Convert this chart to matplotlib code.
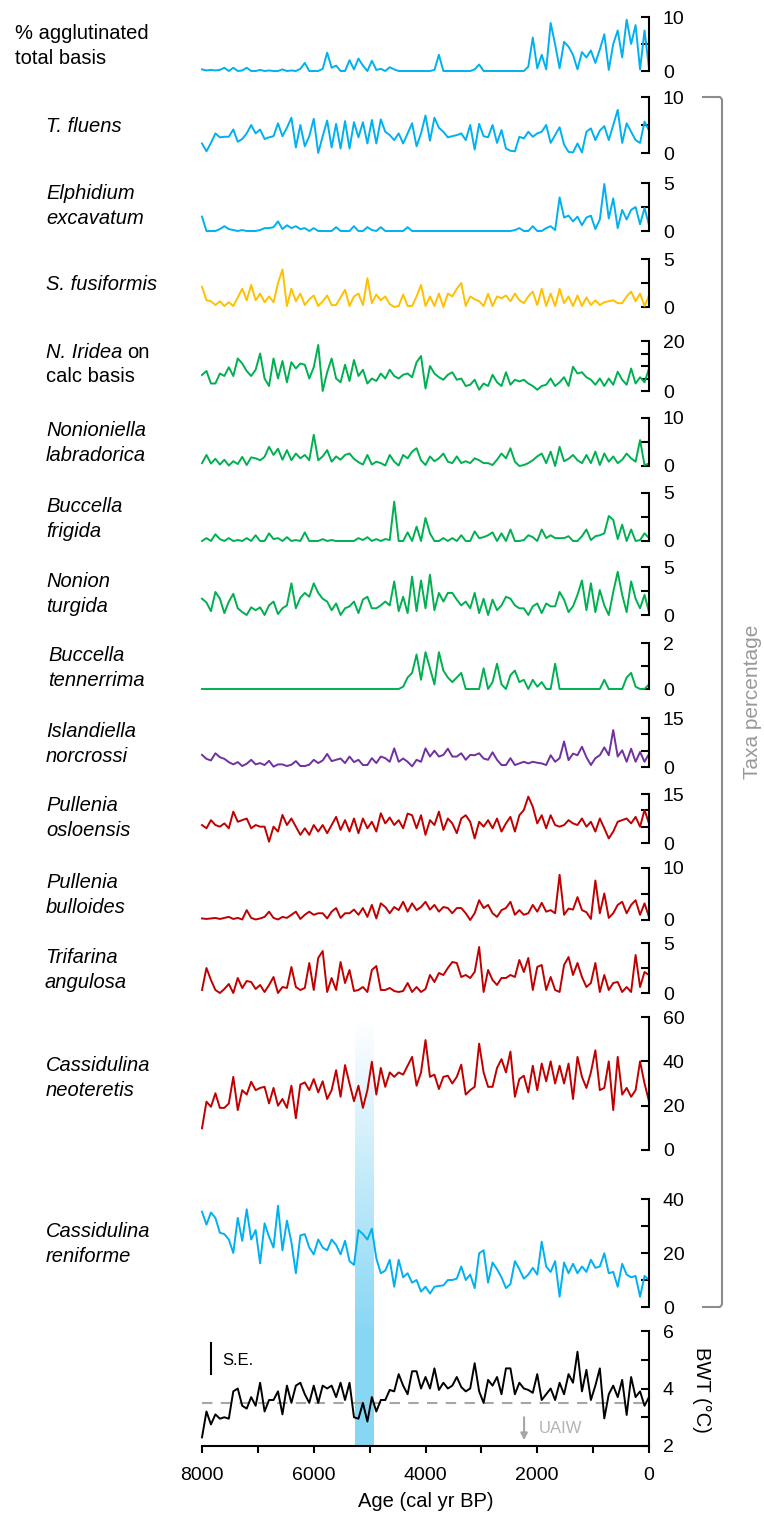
import numpy as np
import matplotlib
matplotlib.use("Agg")
import matplotlib.pyplot as plt
from matplotlib.lines import Line2D

plt.rcParams['font.family'] = ['Liberation Sans', 'DejaVu Sans']

# ---------------- data ----------------
age = [8000, 7920, 7840, 7760, 7680, 7600, 7520, 7440, 7360, 7280,
       7200, 7120, 7040, 6960, 6880, 6800, 6720, 6640, 6560, 6480,
       6400, 6320, 6240, 6160, 6080, 6000, 5920, 5840, 5760, 5680,
       5600, 5520, 5440, 5360, 5280, 5200, 5120, 5040, 4960, 4880,
       4800, 4720, 4640, 4560, 4480, 4400, 4320, 4240, 4160, 4080,
       4000, 3920, 3840, 3760, 3680, 3600, 3520, 3440, 3360, 3280,
       3200, 3120, 3040, 2960, 2880, 2800, 2720, 2640, 2560, 2480,
       2400, 2320, 2240, 2160, 2080, 2000, 1920, 1840, 1760, 1680,
       1600, 1520, 1440, 1360, 1280, 1200, 1120, 1040, 960, 880,
       800, 720, 640, 560, 480, 400, 320, 240, 160, 80, 0]

agglutinated = [0.3, 0.1, 0.2, 0.1, 0.2, 0.6, 0, 0.6, 0, 0.1,
                0.6, 0, 0, 0.2, 0, 0.1, 0, 0, 0.3, 0,
                0.1, 0, 0.4, 1.5, 0, 0, 0, 0.4, 3.4, 0.6,
                1.0, 0, 0, 2.0, 0.3, 2.3, 1.0, 0, 1.9, 0.2,
                0.4, 0, 0.7, 0.3, 0, 0, 0, 0, 0, 0,
                0, 0, 0.2, 3.0, 0, 0, 0, 0, 0, 0,
                0, 0.3, 1.2, 0, 0, 0, 0, 0, 0, 0,
                0, 0, 0, 0.8, 6.2, 0.5, 3.0, 0.3, 8.9, 4.9,
                0.5, 5.4, 4.5, 3.0, 0.3, 3.5, 2.5, 3.8, 1.5, 4.0,
                6.8, 0.2, 5.0, 7.5, 2.5, 9.5, 5.0, 8.5, 0.3, 7.5, 0.5]

t_fluens = [1.7, 0.3, 1.8, 3.5, 2.8, 2.9, 2.9, 4.2, 2.0, 2.5,
            3.5, 5.0, 3.5, 4.2, 2.5, 2.8, 3.0, 5.3, 3.0, 4.5,
            6.3, 1.0, 5.0, 1.2, 3.0, 6.1, 0.0, 3.0, 5.8, 1.0,
            5.2, 0.8, 5.7, 0.8, 5.5, 2.8, 5.5, 1.7, 5.9, 1.7,
            6.0, 3.8, 3.2, 2.3, 3.5, 1.7, 3.5, 5.3, 1.2, 3.5,
            6.7, 2.2, 6.3, 4.5, 3.8, 2.8, 3.0, 3.2, 3.5, 2.3,
            5.0, 0.6, 5.2, 3.0, 2.8, 5.0, 1.8, 4.1, 0.8, 0.4,
            0.3, 2.9, 2.6, 3.8, 2.9, 3.5, 3.8, 5.0, 1.8, 3.2,
            4.6, 1.5, 0.2, 0.1, 1.7, 0.1, 3.8, 4.4, 2.3, 4.0,
            4.8, 2.3, 5.0, 7.7, 1.8, 5.3, 3.8, 2.3, 1.8, 5.6, 4.0]

e_excavatum = [1.5, 0, 0, 0, 0.2, 0.5, 0.2, 0.1, 0, 0.1,
               0, 0, 0, 0.1, 0.3, 0.3, 0.4, 1.0, 0.2, 0.6,
               0.3, 0.5, 0.2, 0.3, 0, 0.3, 0, 0, 0, 0,
               0.4, 0, 0, 0, 0.5, 0, 0, 0.4, 0.1, 0,
               0.4, 0, 0, 0, 0, 0, 0.4, 0, 0, 0,
               0, 0, 0, 0, 0, 0, 0, 0, 0, 0,
               0, 0, 0, 0, 0, 0, 0, 0, 0, 0,
               0.1, 0.3, 0, 0, 0.5, 0, 0, 0.3, 0.5, 0.1,
               3.5, 1.4, 1.6, 1.0, 1.5, 0.6, 1.4, 1.6, 0.2, 1.2,
               4.9, 1.3, 3.4, 0.3, 2.2, 1.2, 2.2, 2.5, 0.7, 2.4, 0.6]

s_fusiformis = [2.1, 0.7, 0.6, 0.2, 0.6, 0.1, 0.5, 0.1, 1.0, 1.9,
                0.7, 2.3, 0.7, 1.4, 0.5, 1.1, 0.5, 2.5, 3.9, 0.1,
                1.9, 0.6, 1.4, 0.2, 0.8, 1.2, 0.1, 0.6, 1.2, 0.2,
                0.2, 1.0, 1.8, 0.1, 1.1, 1.4, 0.2, 3.0, 0.4, 1.3,
                0.7, 1.1, 0.3, 0.0, 0.1, 1.3, 0.1, 0.1, 1.1, 2.3,
                0.1, 1.1, 0.1, 1.4, 0.0, 1.4, 1.1, 1.9, 2.5, 0.1,
                1.1, 0.8, 0.6, 0.1, 1.4, 0.1, 1.1, 0.9, 1.2, 0.6,
                1.4, 0.7, 0.4, 1.1, 1.6, 0.2, 1.9, 0.1, 1.4, 0.1,
                1.9, 0.4, 1.1, 0.1, 1.2, 0.1, 1.0, 0.2, 0.7, 0.2,
                0.5, 0.6, 0.7, 0.4, 0.4, 1.1, 1.6, 0.6, 1.4, 0.1, 1.2]

n_iridea = [6.4, 8.0, 3.0, 3.0, 7.0, 6.0, 9.5, 6.0, 13.0, 11.0,
            8.0, 6.0, 8.5, 15.0, 5.0, 2.0, 13.0, 5.0, 12.0, 3.5,
            11.5, 9.0, 11.0, 10.5, 5.0, 9.5, 18.4, 0.0, 7.5, 13.0,
            5.0, 3.5, 10.5, 4.0, 12.4, 6.0, 8.5, 3.0, 5.0, 4.0,
            7.0, 5.0, 8.5, 6.0, 5.0, 6.5, 7.0, 5.5, 11.5, 14.0,
            1.0, 10.0, 7.0, 5.5, 4.5, 6.5, 7.5, 4.5, 5.0, 2.0,
            2.5, 4.5, 0.5, 3.0, 2.0, 6.5, 3.5, 2.0, 7.5, 2.5,
            4.5, 3.8, 4.5, 3.0, 2.0, 0.5, 2.0, 2.5, 5.0, 2.0,
            3.5, 5.5, 2.0, 9.7, 7.0, 7.5, 5.5, 4.5, 2.5, 5.0,
            2.0, 5.0, 2.5, 7.7, 4.5, 2.5, 9.0, 3.0, 5.5, 3.5, 9.0]

n_labradorica = [0.6, 2.3, 0.5, 1.5, 0.3, 1.3, 0.1, 1.0, 0.4, 1.9,
                 0.2, 1.8, 1.6, 1.2, 1.9, 4.0, 2.3, 3.6, 1.3, 3.3,
                 1.2, 2.6, 1.6, 2.3, 1.2, 6.5, 1.2, 2.0, 3.3, 0.9,
                 2.0, 1.3, 2.3, 2.6, 1.5, 0.8, 0.3, 2.3, 0.3, 0.9,
                 0.6, 0.1, 2.3, 0.9, 0.1, 2.3, 1.6, 3.0, 3.7, 1.2,
                 0.2, 2.0, 1.0, 1.6, 2.6, 0.9, 0.6, 2.0, 0.6, 1.0,
                 0.6, 1.6, 1.2, 0.6, 0.6, 0.2, 1.3, 2.6, 1.6, 3.7,
                 0.9, 0.0, 0.2, 0.6, 1.2, 2.0, 2.6, 0.6, 3.0, 0.0,
                 4.0, 1.0, 1.5, 2.3, 1.2, 0.6, 2.3, 0.6, 3.0, 0.2,
                 2.6, 0.9, 2.0, 0.6, 1.3, 2.6, 1.6, 0.9, 5.4, 0.2, 0.5]

b_frigida = [0.0, 0.3, 0.0, 0.7, 0.2, 0.0, 0.3, 0.0, 0.1, 0.0,
             0.3, 0.0, 0.6, 0.0, 0.0, 0.8, 0.2, 0.3, 0.0, 0.4,
             0.0, 0.1, 0.0, 0.9, 0.0, 0.0, 0.0, 0.2, 0.0, 0.1,
             0.0, 0.0, 0.0, 0.0, 0.0, 0.3, 0.1, 0.4, 0.0, 0.2,
             0.0, 0.2, 0.1, 4.1, 0.0, 0.0, 0.9, 0.0, 1.5, 0.0,
             2.4, 0.8, 0.0, 0.0, 0.3, 0.0, 0.3, 0.0, 0.6, 0.0,
             0.0, 1.0, 0.3, 0.4, 0.6, 0.9, 0.0, 0.8, 0.0, 1.2,
             0.0, 0.0, 0.1, 0.6, 0.4, 0.0, 1.2, 0.3, 0.6, 0.3,
             0.3, 0.3, 0.5, 0.0, 0.0, 0.5, 1.2, 0.1, 0.5, 0.6,
             0.8, 2.6, 2.2, 0.2, 1.7, 0.0, 1.2, 0.0, 0.1, 0.8, 0.3]

n_turgida = [1.7, 1.3, 0.4, 2.4, 1.7, 0.2, 1.4, 2.2, 0.7, 0.3,
             0.0, 0.8, 0.5, 0.8, 0.0, 1.0, 1.4, 0.1, 0.7, 1.0,
             3.3, 0.7, 1.8, 2.3, 1.9, 3.3, 2.3, 1.7, 1.4, 0.5,
             1.2, 0.0, 0.7, 0.9, 1.4, 0.2, 1.6, 1.9, 0.7, 0.7,
             1.0, 1.4, 1.0, 3.5, 0.4, 1.9, 0.2, 4.0, 0.4, 3.6,
             0.7, 4.2, 0.5, 2.3, 1.4, 2.3, 2.3, 1.6, 1.0, 1.4,
             0.7, 2.3, 0.2, 1.7, 0.0, 1.6, 0.5, 1.0, 1.9, 1.7,
             1.0, 0.7, 0.7, 0.0, 0.9, 1.2, 0.2, 1.2, 0.9, 0.9,
             2.4, 1.6, 0.3, 0.9, 2.1, 3.6, 0.5, 3.3, 0.3, 2.6,
             1.0, 0.0, 2.4, 4.5, 2.1, 0.3, 3.5, 1.7, 0.7, 2.1, 0.3]

b_tennerrima = [0, 0, 0, 0, 0, 0, 0, 0, 0, 0,
                0, 0, 0, 0, 0, 0, 0, 0, 0, 0,
                0, 0, 0, 0, 0, 0, 0, 0, 0, 0,
                0, 0, 0, 0, 0, 0, 0, 0, 0, 0,
                0, 0, 0, 0, 0, 0.1, 0.5, 0.7, 1.5, 0.4,
                1.6, 0.9, 0.2, 1.6, 0.8, 0.5, 0.3, 0.5, 0.7, 0.0,
                0.0, 0.0, 0.0, 0.9, 0.0, 0.3, 1.1, 0.2, 0.0, 0.6,
                0.8, 0.3, 0.4, 0.0, 0.4, 0.1, 0.3, 0.0, 0.0, 1.1,
                0, 0, 0, 0, 0, 0, 0, 0, 0, 0,
                0.4, 0, 0, 0, 0, 0.5, 0.7, 0.1, 0, 0, 0.2]

i_norcrossi = [3.7, 2.5, 2.0, 4.2, 3.0, 2.5, 1.5, 0.8, 1.5, 0.3,
               1.0, 2.2, 0.8, 1.2, 0.6, 1.9, 0.1, 0.8, 0.8, 0.3,
               0.7, 1.8, 0.3, 0.3, 0.7, 2.2, 1.2, 2.0, 4.0, 1.8,
               2.2, 2.6, 1.2, 3.2, 1.5, 2.2, 0.6, 0.6, 2.7, 1.2,
               3.2, 2.7, 1.6, 5.7, 1.6, 2.6, 1.6, 0.2, 2.2, 1.6,
               5.7, 3.2, 5.0, 3.2, 3.7, 5.6, 3.2, 3.2, 4.2, 2.2,
               3.7, 3.6, 4.2, 2.6, 2.2, 4.5, 2.2, 0.6, 0.6, 2.7,
               0.6, 1.1, 1.6, 1.1, 1.6, 1.3, 1.1, 0.6, 3.6, 1.6,
               2.7, 7.8, 2.1, 4.1, 3.6, 6.2, 3.0, 0.6, 2.7, 3.6,
               6.0, 3.6, 11.3, 3.2, 5.1, 1.6, 5.6, 1.6, 4.6, 1.6, 4.0]

p_osloensis = [5.5, 4.5, 7.0, 5.5, 5.0, 6.0, 4.5, 9.6, 6.5, 7.0,
               7.5, 4.5, 5.5, 5.0, 5.0, 0.4, 5.0, 3.5, 8.6, 5.5,
               7.5, 5.0, 2.5, 4.5, 2.5, 5.5, 3.5, 5.5, 3.0, 5.5,
               8.0, 4.0, 7.0, 3.5, 7.5, 3.0, 7.5, 4.5, 6.5, 3.5,
               9.1, 6.0, 7.8, 5.5, 7.0, 4.5, 9.0, 8.5, 4.5, 8.5,
               2.5, 7.0, 5.5, 9.6, 4.0, 7.5, 6.0, 3.0, 7.5, 8.5,
               6.5, 1.4, 6.5, 5.0, 7.0, 4.5, 7.5, 3.5, 6.0, 8.0,
               3.5, 8.5, 10.1, 14.2, 11.1, 6.0, 8.5, 4.5, 8.5, 5.5,
               5.0, 5.5, 7.0, 6.0, 5.5, 7.5, 5.0, 6.5, 3.5, 7.5,
               4.5, 1.4, 3.5, 6.5, 7.0, 7.5, 6.0, 8.0, 5.0, 10.1, 6.0]

p_bulloides = [0.3, 0.2, 0.3, 0.4, 0.2, 0.4, 0.6, 0.2, 0.4, 0.1,
               1.9, 0.4, 0.1, 0.3, 0.6, 1.6, 0.4, 0.1, 0.6, 0.4,
               1.0, 1.6, 0.2, 1.0, 1.6, 1.0, 1.3, 1.3, 0.3, 1.6,
               2.3, 0.4, 1.3, 1.3, 2.0, 1.0, 2.3, 0.6, 2.9, 0.3,
               3.2, 2.5, 1.3, 2.5, 1.9, 3.5, 1.6, 3.2, 1.9, 2.5,
               3.5, 2.0, 2.9, 1.6, 2.5, 2.3, 1.3, 2.3, 2.3, 1.3,
               0.0, 1.3, 3.8, 2.3, 2.9, 1.3, 0.6, 1.9, 2.3, 3.5,
               1.0, 1.9, 1.0, 1.3, 2.9, 1.6, 3.3, 1.6, 1.9, 1.3,
               8.7, 1.0, 2.2, 2.0, 4.4, 1.9, 1.5, 0.2, 7.6, 1.3,
               5.1, 0.4, 1.3, 2.9, 3.5, 1.3, 2.9, 3.8, 1.0, 3.2, 0.6]

t_angulosa = [0.3, 2.5, 1.3, 0.3, 0.0, 0.4, 0.9, 0.0, 1.5, 0.5,
              1.2, 1.1, 0.4, 0.8, 0.1, 0.8, 1.6, 0.0, 0.6, 0.5,
              2.6, 0.6, 0.3, 0.5, 3.0, 0.3, 3.5, 4.2, 0.1, 1.5,
              0.3, 3.1, 1.0, 2.3, 0.2, 0.3, 0.6, 0.1, 2.3, 2.7,
              0.3, 0.3, 0.5, 0.2, 0.1, 0.2, 1.0, 0.1, 0.6, 0.1,
              0.4, 1.8, 1.1, 2.0, 1.8, 2.5, 3.1, 3.0, 1.6, 1.8,
              1.5, 2.1, 4.6, 0.1, 2.3, 1.3, 0.8, 1.5, 1.5, 1.8,
              1.6, 3.3, 2.1, 3.5, 0.3, 2.6, 2.8, 0.3, 1.6, 0.3,
              0.1, 2.8, 3.6, 1.8, 3.0, 1.6, 0.6, 1.0, 3.0, 0.1,
              1.8, 0.3, 1.0, 1.1, 0.1, 0.6, 0.1, 3.8, 0.6, 2.1, 1.8]

c_neoteretis = [9.8, 21.8, 19.5, 25.6, 19.0, 19.0, 21.0, 33.0, 18.0, 27.0,
                25.0, 30.8, 27.0, 28.0, 28.5, 21.0, 28.0, 20.0, 23.0, 19.0,
                29.0, 14.3, 29.5, 30.5, 27.0, 32.0, 26.0, 31.0, 23.0, 27.0,
                36.0, 24.0, 38.3, 30.0, 22.0, 29.0, 19.0, 27.0, 39.8, 25.0,
                37.0, 28.5, 35.0, 33.0, 35.0, 34.0, 38.0, 42.0, 29.0, 35.0,
                49.6, 33.0, 34.0, 27.5, 33.0, 33.5, 30.0, 33.0, 38.5, 25.0,
                27.0, 28.5, 48.0, 35.0, 28.5, 28.5, 37.0, 41.0, 35.0, 44.4,
                24.0, 32.0, 33.5, 26.0, 38.0, 27.0, 39.0, 31.0, 40.0, 30.0,
                38.0, 30.0, 39.0, 23.0, 42.0, 33.0, 28.0, 35.0, 45.0, 27.0,
                28.0, 40.0, 18.0, 42.0, 25.0, 28.0, 24.0, 27.0, 40.0, 30.0, 22.0]

c_reniforme = [35.3, 30.5, 35.0, 33.0, 27.5, 27.0, 25.0, 20.0, 33.0, 24.5,
               36.2, 25.0, 28.5, 16.2, 31.0, 26.0, 22.0, 37.5, 21.0, 32.0,
               24.0, 12.5, 26.5, 27.0, 22.0, 19.5, 25.0, 22.0, 21.0, 25.0,
               23.0, 19.5, 24.5, 17.0, 15.6, 28.5, 27.0, 25.0, 29.0, 18.0,
               12.5, 13.5, 17.5, 7.5, 17.5, 11.0, 12.5, 9.0, 10.0, 5.7,
               7.5, 5.0, 7.5, 7.8, 8.0, 10.0, 10.0, 10.5, 15.0, 10.0,
               12.0, 7.0, 19.9, 21.0, 9.0, 16.5, 14.0, 11.0, 7.0, 8.5,
               17.0, 14.0, 10.5, 12.0, 14.5, 12.0, 24.2, 15.0, 13.0, 17.0,
               3.8, 16.5, 12.5, 16.0, 12.5, 15.0, 13.0, 17.5, 14.5, 15.0,
               19.9, 12.5, 13.0, 7.5, 16.0, 12.0, 11.0, 11.5, 3.8, 11.5, 10.0]

bwt = [2.3, 3.2, 2.75, 3.1, 2.95, 3.0, 2.95, 3.9, 4.0, 3.4,
       3.3, 3.7, 3.4, 4.2, 3.2, 3.6, 3.6, 3.9, 3.1, 4.1,
       3.5, 4.1, 4.2, 3.8, 3.5, 4.1, 3.5, 4.1, 4.0, 4.1,
       3.7, 4.2, 3.6, 4.2, 3.0, 2.95, 3.5, 2.85, 3.7, 3.2,
       3.6, 3.6, 3.95, 3.9, 4.5, 4.1, 3.8, 4.6, 4.6, 4.0,
       4.4, 4.0, 4.7, 3.95, 4.2, 4.0, 4.1, 4.4, 4.05, 3.9,
       4.0, 4.88, 3.9, 3.5, 4.3, 4.1, 4.4, 3.8, 4.7, 4.7,
       3.8, 4.2, 4.0, 3.95, 3.85, 4.5, 3.6, 3.8, 4.0, 3.6,
       4.2, 3.8, 4.5, 4.2, 5.28, 3.9, 4.65, 3.6, 4.1, 4.7,
       2.96, 3.8, 4.1, 3.7, 4.3, 3.08, 4.4, 3.7, 3.9, 3.4, 3.7]

band_age = [5270, 4930]
uaiw_threshold = 3.5
se_bar = [4.5, 5.58]

# ---------------- styling ----------------
BLUE = '#00b0f0'
GREEN = '#00b050'
YELLOW = '#ffc000'
PURPLE = '#7030a0'
RED = '#c00000'
FS_LAB = 14.5
FS_TICK = 14

W, H = 764, 1515
XL, XR = 202, 649

fig = plt.figure(figsize=(W / 100, H / 100), dpi=100)


def fx(x):
    return x / W


def fy(y):
    return 1 - y / H


def make_ax(ytop, ybot):
    ax = fig.add_axes([fx(XL), fy(ybot), (XR - XL) / W, (ybot - ytop) / H])
    ax.set_zorder(2)
    ax.patch.set_visible(False)
    return ax


# shaded band with vertical gradient
bax = fig.add_axes([fx(XL), fy(1446), (XR - XL) / W, (1446 - 1020) / H])
bax.set_zorder(0)
ypix = np.arange(1020, 1447)
tt = np.clip((ypix - 1020) / (1335 - 1020), 0, 1)
c_top = np.array([1.0, 1.0, 1.0])
c_bot = np.array([0.53, 0.84, 0.96])
grad = c_top[None, :] * (1 - tt[:, None]) + c_bot[None, :] * tt[:, None]
bax.imshow(grad[:, None, :], extent=(band_age[0], band_age[1], 1446, 1020),
           aspect='auto', interpolation='bilinear')
bax.set_xlim(8000, 0)
bax.set_ylim(1446, 1020)
bax.axis('off')

# (label, values, color, ytop_px, ybot_px, ymax, major, minor, label_x, label_y, italic)
panels = [
    ("% agglutinated\ntotal basis", agglutinated, BLUE, 17, 71, 10, [0, 10], [5], 15, 46, False),
    ("T. fluens", t_fluens, BLUE, 97, 153, 10, [0, 10], [5], 46, 127, True),
    ("Elphidium\nexcavatum", e_excavatum, BLUE, 183, 231, 5, [0, 5], [2.5], 46, 206, True),
    ("S. fusiformis", s_fusiformis, YELLOW, 259, 307, 5, [0, 5], [2.5], 46, 285, True),
    (None, n_iridea, GREEN, 341, 391, 20, [0, 20], [5, 10, 15], 46, 364, True),
    ("Nonioniella\nlabradorica", n_labradorica, GREEN, 418, 466, 10, [0, 10], [5], 46, 443, True),
    ("Buccella\nfrigida", b_frigida, GREEN, 493, 541, 5, [0, 5], [2.5], 46, 519, True),
    ("Nonion\nturgida", n_turgida, GREEN, 567, 615, 5, [0, 5], [2.5], 46, 594, True),
    ("Buccella\ntennerrima", b_tennerrima, GREEN, 643, 689, 2, [0, 2], [1], 48, 668, True),
    ("Islandiella\nnorcrossi", i_norcrossi, PURPLE, 718, 767, 15, [0, 15], [5, 10], 46, 744, True),
    ("Pullenia\nosloensis", p_osloensis, RED, 794, 843, 15, [0, 15], [5, 10], 46, 818, True),
    ("Pullenia\nbulloides", p_bulloides, RED, 868, 920, 10, [0, 10], [5], 46, 895, True),
    ("Trifarina\nangulosa", t_angulosa, RED, 943, 993, 5, [0, 5], [2.5], 45, 970, True),
    ("Cassidulina\nneoteretis", c_neoteretis, RED, 1017, 1150, 60, [0, 20, 40, 60], [], 46, 1078, True),
    ("Cassidulina\nreniforme", c_reniforme, BLUE, 1199, 1307, 40, [0, 20, 40], [10, 30], 46, 1244, True),
]


def style_y(ax, ymin, ymax, major, minor):
    for s in ('top', 'left', 'bottom'):
        ax.spines[s].set_visible(False)
    ax.spines['right'].set_linewidth(1.5)
    ax.spines['right'].set_bounds(ymin, ymax)
    ax.yaxis.tick_right()
    ax.set_yticks(major)
    ax.set_yticklabels([str(int(v)) for v in major])
    ax.set_yticks(minor, minor=True)
    ax.tick_params(axis='y', which='both', direction='in', length=6, width=1.5,
                   pad=10, labelsize=FS_TICK)


for lab, vals, col, ytop, ybot, ymax, major, minor, lx, ly, it in panels:
    ax = make_ax(ytop, ybot)
    ax.plot(age, vals, color=col, lw=1.4, clip_on=False)
    ax.set_xlim(8000, 0)
    ax.set_ylim(0, ymax)
    style_y(ax, 0, ymax, major, minor)
    ax.set_xticks([])
    if lab is not None:
        fig.text(fx(lx), fy(ly), lab, ha='left', va='center', fontsize=FS_LAB,
                 style='italic' if it else 'normal', linespacing=1.38)

# mixed-style label for N. Iridea
renderer = fig.canvas.get_renderer()
t1 = fig.text(fx(46), fy(352), "N. Iridea", style='italic', fontsize=FS_LAB,
              ha='left', va='center')
bb = t1.get_window_extent(renderer=renderer)
fig.text((bb.x1 + 5) / W, fy(352), "on", fontsize=FS_LAB, ha='left', va='center')
fig.text(fx(46), fy(376), "calc basis", fontsize=FS_LAB, ha='left', va='center')

# BWT panel
ax = make_ax(1331, 1446)
ax.axhline(uaiw_threshold, color='#a6a6a6', lw=1.5, dashes=(5, 4), zorder=1)
ax.plot(age, bwt, color='black', lw=1.4, zorder=3, clip_on=False)
ax.set_xlim(8000, 0)
ax.set_ylim(2, 6)
style_y(ax, 2, 6, [2, 4, 6], [3, 5])
ax.spines['bottom'].set_visible(True)
ax.spines['bottom'].set_linewidth(1.5)
ax.xaxis.tick_bottom()
ax.set_xticks([8000, 6000, 4000, 2000, 0])
ax.set_xticks([7000, 5000, 3000, 1000], minor=True)
ax.tick_params(axis='x', which='both', direction='out', length=5, width=1.5,
               pad=10, labelsize=FS_TICK)
ax.set_xlabel('Age (cal yr BP)', fontsize=FS_LAB, labelpad=6)
ax.plot([7835, 7835], se_bar, color='black', lw=1.5)
ax.text(7640, 4.99, 'S.E.', fontsize=12, ha='left', va='center')
ax.annotate('', xy=(2236, 2.2), xytext=(2236, 3.0),
            arrowprops=dict(arrowstyle='-|>', color='#a6a6a6', lw=1.5,
                            mutation_scale=10, shrinkA=0, shrinkB=0))
ax.text(1968, 2.6, 'UAIW', fontsize=12, color='#b3b3b3', ha='left', va='center')

fig.text(fx(702), fy(1390), 'BWT (°C)', rotation=270, ha='center', va='center',
         fontsize=FS_LAB)

# gray bracket for taxa percentages
fig.add_artist(Line2D([fx(703), fx(720), fx(722), fx(722), fx(720), fx(703)],
                      [fy(97), fy(97), fy(99.5), fy(1304.5), fy(1307), fy(1307)],
                      color='#8c8c8c', lw=1.5))
fig.text(fx(752), fy(702), 'Taxa percentage', rotation=90, ha='center', va='center',
         fontsize=15, color='#999999')

fig.savefig('out.png', dpi=100)
